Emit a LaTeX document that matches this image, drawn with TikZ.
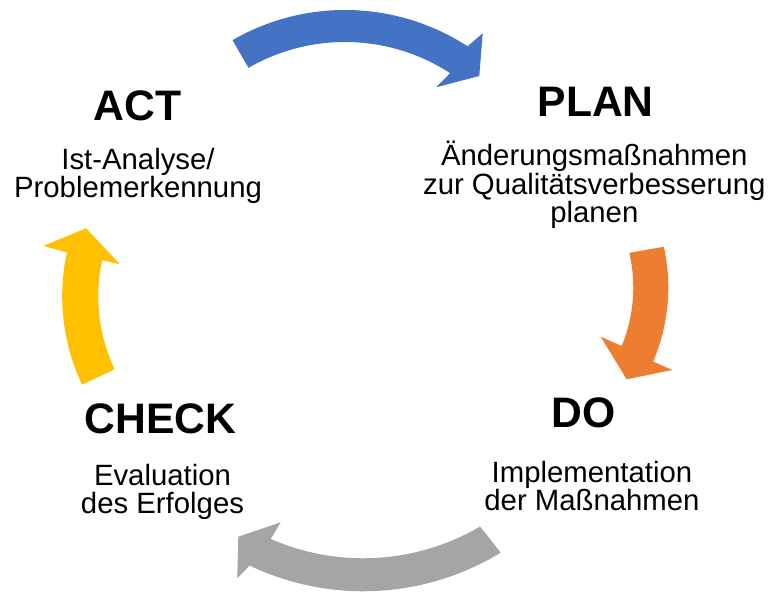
\documentclass[tikz,border=0pt]{standalone}
\usepackage{fontspec}
\setmainfont{Liberation Sans}
\usetikzlibrary{calc}
\definecolor{cyBlue}{HTML}{4472C4}
\definecolor{cyOrange}{HTML}{ED7D31}
\definecolor{cyGray}{HTML}{A5A5A5}
\definecolor{cyYellow}{HTML}{FFC000}
\begin{document}
\begin{tikzpicture}[x=0.75pt,y=0.75pt,
  phase/.style={inner sep=0pt, anchor=base, font=\fontsize{32}{38}\selectfont\bfseries},
  % multi-line descriptions: the base anchor sits on the last line
  detail/.style={inner sep=0pt, anchor=base, align=center, font=\fontsize{22}{20.5}\selectfont}]
\useasboundingbox (0,0) rectangle (769,595);

% circular arrows of the cycle, each bent round its own centre
\coordinate (cPlan)  at (345,360);
\coordinate (cDo)    at (480.3,307.5);
\coordinate (cCheck) at (363.2,267.7);
\coordinate (cAct)   at (268.2,298.7);

% ACT -> PLAN
\fill[cyBlue] ($(cPlan)+(120:225)$) arc[start angle=120, end angle=57, radius=225]
  -- (482.7,561.7) -- (479.3,519) -- (436,507.7)
  -- ($(cPlan)+(57:193)$) arc[start angle=57, end angle=120, radius=193] -- cycle;

% PLAN -> DO
\fill[cyOrange] ($(cDo)+(12.5:188)$) arc[start angle=12.5, end angle=-23.2, radius=188]
  -- (672.3,225) -- (626.7,215.7) -- (600.7,258.3)
  -- ($(cDo)+(-22.5:153)$) arc[start angle=-22.5, end angle=13.1, radius=153] -- cycle;

% DO -> CHECK
\fill[cyGray] ($(cCheck)+(-58.6:264)$) arc[start angle=-58.6, end angle=-115.5, radius=264]
  -- (237.3,16.7) -- (238.3,58.3) -- (280.7,72.7)
  -- ($(cCheck)+(-113.6:231)$) arc[start angle=-113.6, end angle=-59.6, radius=231] -- cycle;

% CHECK -> ACT
\fill[cyYellow] ($(cAct)+(205.4:206)$) arc[start angle=205.4, end angle=167.7, radius=206]
  -- (43.3,349) -- (86,366.7) -- (120,330.7)
  -- ($(cAct)+(167.7:170)$) arc[start angle=167.7, end angle=205.4, radius=170] -- cycle;

% phase titles and descriptions
\node[phase]  (act)       at (137.5,474.3) {ACT};
\node[detail] (actText)   at (138,397.3)   {Ist-Analyse/\\Problemerkennung};
\node[phase]  (plan)      at (595.7,478.3) {PLAN};
\node[detail] (planText)  at (594.3,372.3) {Änderungsmaßnahmen\\zur Qualitätsverbesserung\\planen};
\node[phase]  (check)     at (160.3,161.7) {CHECK};
\node[detail] (checkText) at (162.5,81.7)  {Evaluation\\des Erfolges};
\node[phase]  (do)        at (583.8,167.3) {DO};
\node[detail] (doText)    at (592,84)      {Implementation\\der Maßnahmen};
\end{tikzpicture}
\end{document}
